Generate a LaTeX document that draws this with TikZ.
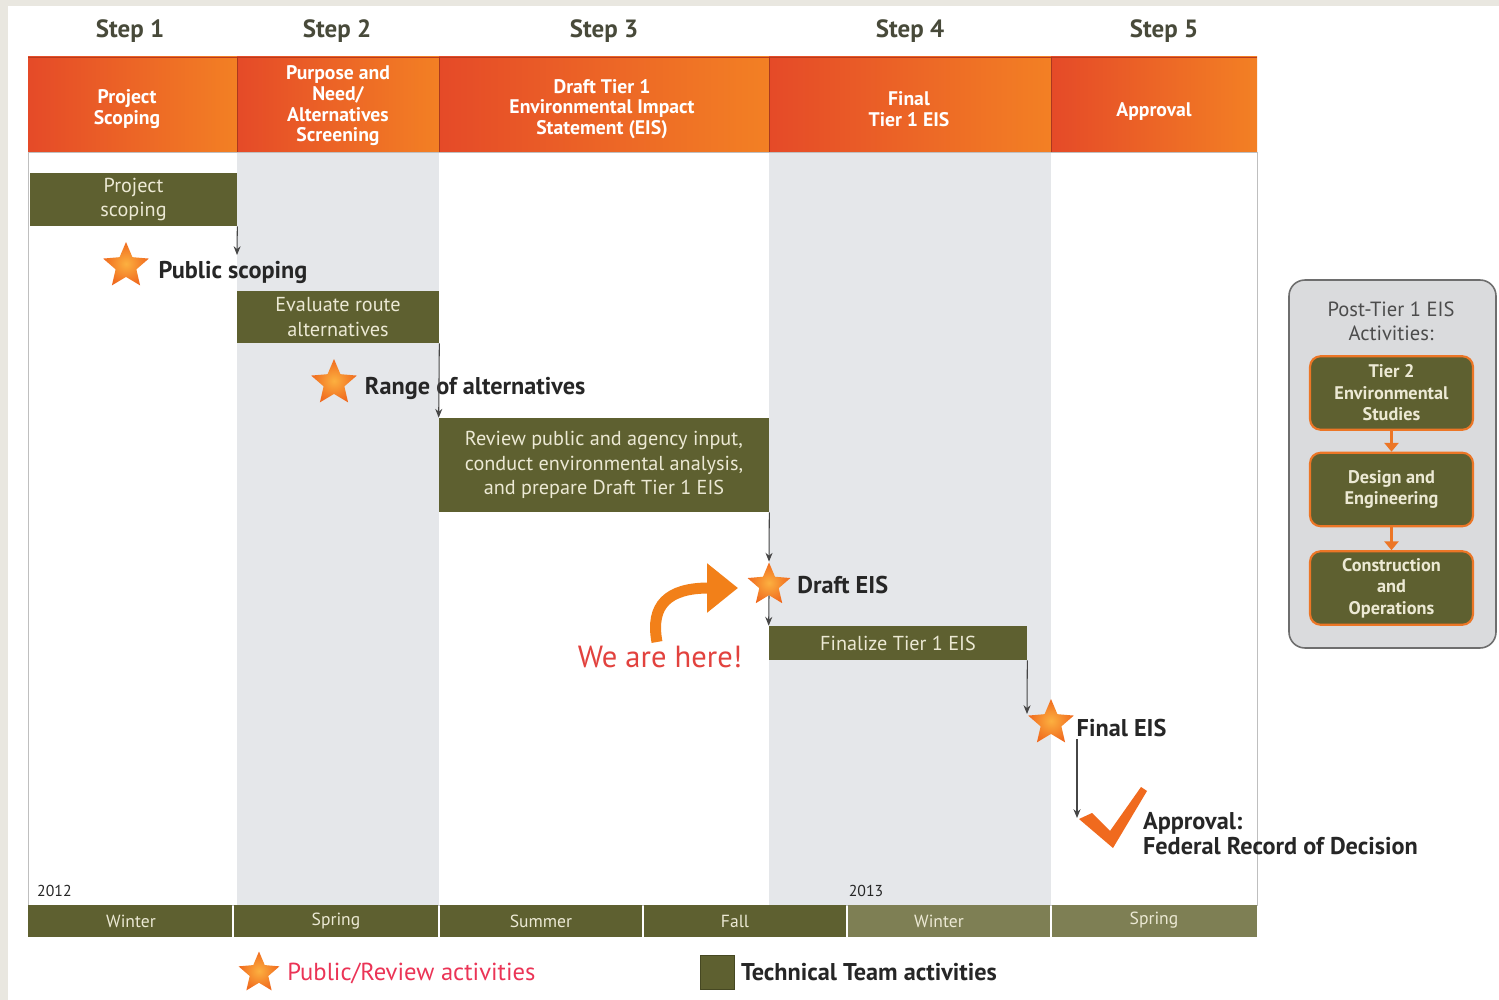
\documentclass[tikz,border=0pt]{standalone}
\usepackage{fontspec}
\setmainfont{PT Sans}
\usepackage{xcolor}
\usetikzlibrary{positioning,shapes.geometric,arrows.meta}
\definecolor{olivebox}{RGB}{94,96,48}
\definecolor{olivelight}{RGB}{126,127,84}
\definecolor{olivedark}{RGB}{70,72,34}
\definecolor{boxtext}{RGB}{236,233,212}
\definecolor{hdrleft}{RGB}{229,74,40}
\definecolor{hdrright}{RGB}{243,128,36}
\definecolor{steptext}{RGB}{72,74,58}
\definecolor{colgray}{RGB}{229,231,234}
\definecolor{framebg}{RGB}{233,231,224}
\definecolor{starin}{RGB}{252,176,64}
\definecolor{starout}{RGB}{240,106,30}
\definecolor{arrowgray}{RGB}{70,70,70}
\definecolor{herered}{RGB}{226,66,62}
\definecolor{legendred}{RGB}{235,52,86}
\definecolor{postgray}{RGB}{218,219,221}
\definecolor{postedge}{RGB}{110,110,110}
\definecolor{postorange}{RGB}{236,118,38}

\begin{document}
\begin{tikzpicture}[x=0.02cm,y=-0.02cm,
    techbox/.style={%
      fill=olivebox,
      text=boxtext,
      align=center,
      inner sep=0pt,
      font=\fontsize{11.5}{14}\selectfont,
    },
    hdrtext/.style={%
      text=white,
      align=center,
      font=\fontsize{11.2}{11.8}\selectfont\bfseries,
    },
    steplabel/.style={%
      text=steptext,
      font=\fontsize{14.2}{16}\selectfont\bfseries,
    },
    milestar/.style={%
      star,
      star points=5,
      star point ratio=2.2,
      inner sep=0pt,
      minimum size=0.96cm,
      shade,
      inner color=starin,
      outer color=starout,
    },
    milestone/.style={%
      text=black!85,
      inner sep=1pt,
      align=left,
      font=\fontsize{13.8}{14.2}\selectfont\bfseries,
    },
    flow/.style={%
      draw=arrowgray,
      line width=0.6pt,
      -{Stealth[length=5pt,width=4pt]},
    },
    seasontext/.style={%
      text=boxtext,
      font=\fontsize{10}{12}\selectfont,
    },
    postbox/.style={%
      rectangle,
      rounded corners=6pt,
      fill=olivebox,
      draw=postorange,
      line width=1.2pt,
      text=boxtext,
      align=center,
      minimum width=3.26cm,
      minimum height=1.47cm,
      font=\fontsize{10.4}{12.2}\selectfont\bfseries,
    },
  ]

    \useasboundingbox (0,0) rectangle (1499,1000);
    \fill[framebg] (0,0) rectangle (1499,1000);
    \fill[white] (8,6) rectangle (1499,1000);

    \fill[colgray] (237,152) rectangle (439,905);
    \fill[colgray] (769,152) rectangle (1051,905);
    \draw[black!25,line width=0.4pt] (28,152) rectangle (1257,905);

    \shade[left color=hdrleft,right color=hdrright] (28,57) rectangle (237,152);
    \shade[left color=hdrleft,right color=hdrright] (237,57) rectangle (439,152);
    \shade[left color=hdrleft,right color=hdrright] (439,57) rectangle (769,152);
    \shade[left color=hdrleft,right color=hdrright] (769,57) rectangle (1051,152);
    \shade[left color=hdrleft,right color=hdrright] (1051,57) rectangle (1257,152);
    \draw[hdrleft!80!black,line width=0.5pt] (28,57) -- (1257,57);
    \foreach \xs in {237,439,769,1051}
        \draw[hdrleft!75!black,line width=0.4pt] (\xs,57) -- (\xs,152);

    \node [steplabel] (step1) at (130,31) {Step 1};
    \node [steplabel] (step2) at (337,31) {Step 2};
    \node [steplabel] (step3) at (604,31) {Step 3};
    \node [steplabel] (step4) at (910,31) {Step 4};
    \node [steplabel] (step5) at (1164,31) {Step 5};

    \node [hdrtext] (hdr1) at (127,109) {Project\\Scoping};
    \node [hdrtext] (hdr2) at (338,106) {Purpose and\\Need/\\Alternatives\\Screening};
    \node [hdrtext] (hdr3) at (602,109) {Draft Tier 1\\Environmental Impact\\Statement (EIS)};
    \node [hdrtext] (hdr4) at (909,109) {Final\\Tier 1 EIS};
    \node [hdrtext] (hdr5) at (1154,112) {Approval};

    \node [techbox,minimum width=4.14cm,minimum height=1.06cm] (projbox) at (133.5,199.5) {Project\\scoping};
    \node [techbox,minimum width=4.04cm,minimum height=1.04cm] (evalbox) at (338,317) {Evaluate route\\alternatives};
    \node [techbox,minimum width=6.6cm,minimum height=1.88cm] (reviewbox) at (604,465) {Review public and agency input,\\conduct environmental analysis,\\and prepare Draft Tier 1 EIS};
    \node [techbox,minimum width=5.16cm,minimum height=0.68cm] (finbox) at (898,643) {Finalize Tier 1 EIS};

    \node [milestar] (pstar) at (126,266) {};
    \node [milestone,right=9pt of pstar,yshift=-3.5pt] (pstxt) {Public scoping};
    \node [milestar] (rstar) at (334,383) {};
    \node [milestone,right=8pt of rstar,yshift=-3pt] (rtxt) {Range of alternatives};
    \node [milestar,minimum size=0.9cm] (draftstar) at (769,585) {};
    \node [milestone,right=7pt of draftstar] (drafttxt) {Draft EIS};
    \node [milestar] (finalstar) at (1051,723) {};
    \node [milestone,right=5pt of finalstar,yshift=-3pt] (finaltxt) {Final EIS};

    \coordinate (psend) at (237,255);
    \coordinate (finend) at (1027,714);
    \coordinate (apprend) at (1077,818);
    \draw [flow] (projbox.south east) -- (psend);
    \draw [flow] (evalbox.south east) -- (reviewbox.north west);
    \draw [flow] (reviewbox.south east) -- (draftstar.north);
    \draw [flow] (draftstar.south) -- (finbox.north west);
    \draw [flow] (finbox.south east) -- (finend);
    \draw [flow] (apprend |- finaltxt.south) -- (apprend);

    \fill[starout] (1079,819) -- (1092,813) -- (1110,831) -- (1141,787) -- (1147,791) -- (1113,848) -- cycle;
    \node [milestone,anchor=north west] (apprtxt) at (1141,810) {Approval:\\Federal Record of Decision};

    \draw[starout!85!yellow,line width=0.22cm,-{Triangle[length=0.62cm,width=0.95cm]}]
        (657,642) .. controls (650,605) and (668,588) .. (738,588);
    \node [text=herered,font=\fontsize{17.4}{19}\selectfont] (heretxt) at (660,657) {We are here!};

    \node [text=black!85,font=\fontsize{9}{10}\selectfont,anchor=west] (yr12) at (31,891) {2012};
    \node [text=black!85,font=\fontsize{9}{10}\selectfont] (yr13) at (866,891) {2013};

    \fill[olivebox] (28,905) rectangle (232,937);
    \fill[olivebox] (234,905) rectangle (438,937);
    \fill[olivebox] (440,905) rectangle (642,937);
    \fill[olivebox] (644,905) rectangle (846,937);
    \fill[olivelight] (848,905) rectangle (1050,937);
    \fill[olivelight] (1052,905) rectangle (1257,937);
    \node [seasontext] (seas1) at (131,921) {Winter};
    \node [seasontext] (seas2) at (336,921) {Spring};
    \node [seasontext] (seas3) at (541,921) {Summer};
    \node [seasontext] (seas4) at (735,921) {Fall};
    \node [seasontext] (seas5) at (939,921) {Winter};
    \node [seasontext] (seas6) at (1154,920) {Spring};

    \node [draw=postedge,fill=postgray,line width=0.9pt,rounded corners=9pt,minimum width=4.14cm,minimum height=7.36cm] (post) at (1392.5,464) {};
    \node [text=black!70,align=center,font=\fontsize{11.7}{13.5}\selectfont] (posttitle) at (1391,321) {Post-Tier 1 EIS\\Activities:};
    \node [postbox] (tier2) at (1391.5,393) {Tier 2\\Environmental\\Studies};
    \node [postbox] (design) at (1391.5,489.5) {Design and\\Engineering};
    \node [postbox] (constr) at (1391.5,588) {Construction\\and\\Operations};
    \draw [postorange,line width=1.2pt,-{Triangle[length=5pt,width=8pt]}] (tier2.south) -- (design.north);
    \draw [postorange,line width=1.2pt,-{Triangle[length=5pt,width=8pt]}] (design.south) -- (constr.north);

    \node [milestar,minimum size=0.86cm] (legstar) at (259,973) {};
    \node [text=legendred,font=\fontsize{14}{15}\selectfont,right=5pt of legstar] (legstartxt) {Public/Review activities};
    \node [fill=olivebox,draw=olivedark,minimum size=0.68cm,inner sep=0pt] (legsq) at (717.5,972) {};
    \node [text=black!85,font=\fontsize{13.8}{15}\selectfont\bfseries,right=0pt of legsq] (legsqtxt) {Technical Team activities};
\end{tikzpicture}
\end{document}
